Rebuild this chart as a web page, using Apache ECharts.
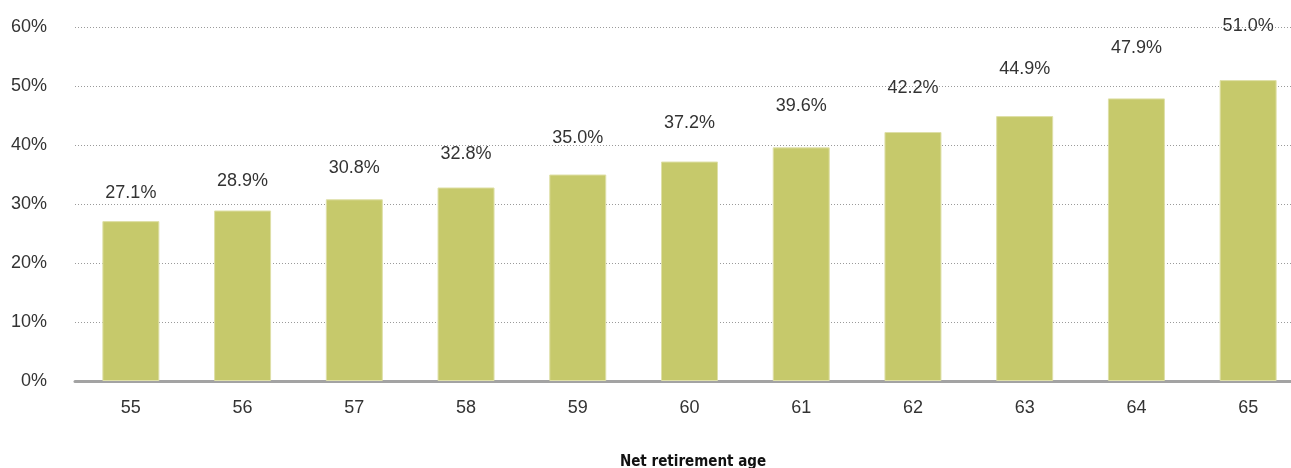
<!DOCTYPE html>
<html>
<head>
<meta charset="utf-8">
<script src="https://cdn.jsdelivr.net/npm/echarts@6/dist/echarts.min.js"></script>
<style>
  html, body { margin: 0; padding: 0; background: #fff; }
  #chart { width: 1291px; height: 468px; }
</style>
</head>
<body>
<div id="chart"></div>
<script>
// Share of people by net retirement age
const ages = ['55', '56', '57', '58', '59', '60', '61', '62', '63', '64', '65'];
const shares = [27.1, 28.9, 30.8, 32.8, 35.0, 37.2, 39.6, 42.2, 44.9, 47.9, 51.0];
const yTicks = [0, 10, 20, 30, 40, 50, 60];
const xTitle = 'Net retirement age';

const textFont = '"Liberation Sans", Arial, sans-serif';
const chart = echarts.init(document.getElementById('chart'));

chart.setOption({
  animation: false,
  title: {
    text: xTitle,
    left: 688,
    top: 450,
    textAlign: 'center',
    textStyle: {
      color: '#111', fontSize: 15, fontWeight: 'bold',
      fontFamily: '"Liberation Sans Narrow", "DejaVu Sans Condensed", sans-serif'
    }
  },
  grid: {
    left: 75, right: -13, top: 27, bottom: 87,
    containLabel: false,
    outerBoundsMode: 'none'
  },
  xAxis: {
    type: 'category',
    data: ages,
    axisTick: { show: false },
    axisLine: { lineStyle: { color: '#a3a3a3', width: 3 } },
    axisLabel: { color: '#333', fontSize: 18, fontFamily: textFont, margin: 18 }
  },
  yAxis: [
    {
      type: 'value',
      min: yTicks[0],
      max: yTicks[yTicks.length - 1],
      interval: 10,
      axisLine: { show: false },
      axisTick: { show: false },
      axisLabel: {
        color: '#333', fontSize: 18, fontFamily: textFont, margin: 28,
        formatter: v => v + '%'
      },
      splitLine: { lineStyle: { color: '#9a9a9a', type: [1, 2], width: 1 } }
    },
    {
      // label track: value labels sit on their own, compressed scale
      type: 'value', show: false, min: 0.3, max: 50.9,
      splitLine: { show: false }
    }
  ],
  series: [
    {
      type: 'bar',
      data: shares,
      barWidth: 57,
      itemStyle: { color: '#c6c96b', borderColor: '#dfe0a8', borderWidth: 1 }
    },
    {
      type: 'scatter',
      yAxisIndex: 1,
      data: shares,
      symbolSize: 0,
      clip: false,
      silent: true,
      itemStyle: { opacity: 1 },
      label: {
        show: true,
        position: 'inside',
        color: '#333',
        fontSize: 18,
        fontFamily: textFont,
        formatter: p => p.value.toFixed(1) + '%'
      }
    }
  ]
});
</script>
</body>
</html>
